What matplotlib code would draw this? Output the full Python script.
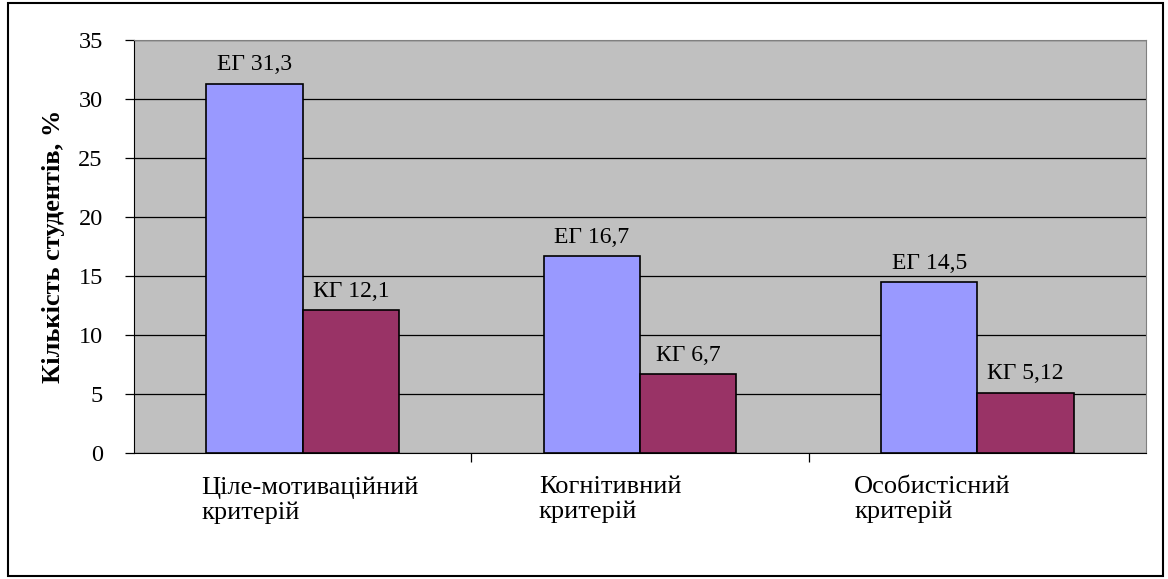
import matplotlib.pyplot as plt
import numpy as np
from matplotlib.patches import Rectangle

plt.rcParams['font.family'] = ['Liberation Serif', 'DejaVu Serif']

categories = ['Ціле-мотиваційний\nкритерій', 'Когнітивний\nкритерій', 'Особистісний\nкритерій']
eg_values = [31.3, 16.7, 14.5]
kg_values = [12.1, 6.7, 5.12]
eg_labels = ['ЕГ 31,3', 'ЕГ 16,7', 'ЕГ 14,5']
kg_labels = ['КГ 12,1', 'КГ 6,7', 'КГ 5,12']

fig = plt.figure(figsize=(11.68, 5.79), dpi=100)
ax = fig.add_axes([134 / 1168, 1 - 453 / 579, (1146 - 134) / 1168, (453 - 40) / 579])

x = np.arange(len(categories))
w = 1 / 3.5
ax.bar(x - w / 2, eg_values, w, color='#9999FF', edgecolor='black', linewidth=1.2, zorder=3)
ax.bar(x + w / 2, kg_values, w, color='#993366', edgecolor='black', linewidth=1.2, zorder=3)

for i in range(len(categories)):
    ax.annotate(eg_labels[i], (x[i] - w / 2, eg_values[i]), xytext=(0, 6), textcoords='offset points',
                ha='center', va='bottom', fontsize=17, zorder=4)
    ax.annotate(kg_labels[i], (x[i] + w / 2, kg_values[i]), xytext=(0, 6), textcoords='offset points',
                ha='center', va='bottom', fontsize=17, zorder=4)

ax.set_facecolor('#C0C0C0')
ax.set_xlim(-0.5, 2.5)
ax.set_ylim(0, 35)
ax.set_yticks(range(0, 36, 5))
ax.yaxis.grid(True, color='black', linewidth=0.9, zorder=1)
ax.set_axisbelow(True)
ax.tick_params(axis='y', labelsize=17.5, length=6.5, width=0.9, direction='out', pad=16)

ax.set_xticks([0.5, 1.5])
ax.set_xticklabels([])
ax.tick_params(axis='x', length=6.5, width=0.9, direction='out')

offsets = [-0.3, -0.3, -0.365]
for i, lab in enumerate(categories):
    ax.text(x[i] + offsets[i], -1.95, lab, ha='left', va='top', fontsize=19, linespacing=1.15)

for s in ['top', 'right']:
    ax.spines[s].set_color('#808080')
for s in ['left', 'bottom']:
    ax.spines[s].set_color('black')

ax.set_ylabel('Кількість студентів, %', fontsize=19, fontweight='bold')
ax.yaxis.set_label_coords(-0.068, 0.5)

fig.patches.append(Rectangle((8 / 1168, 3 / 579), 1155 / 1168, 573 / 579, transform=fig.transFigure,
                             fill=False, edgecolor='black', linewidth=1.5))

fig.savefig('out.png', dpi=100)
